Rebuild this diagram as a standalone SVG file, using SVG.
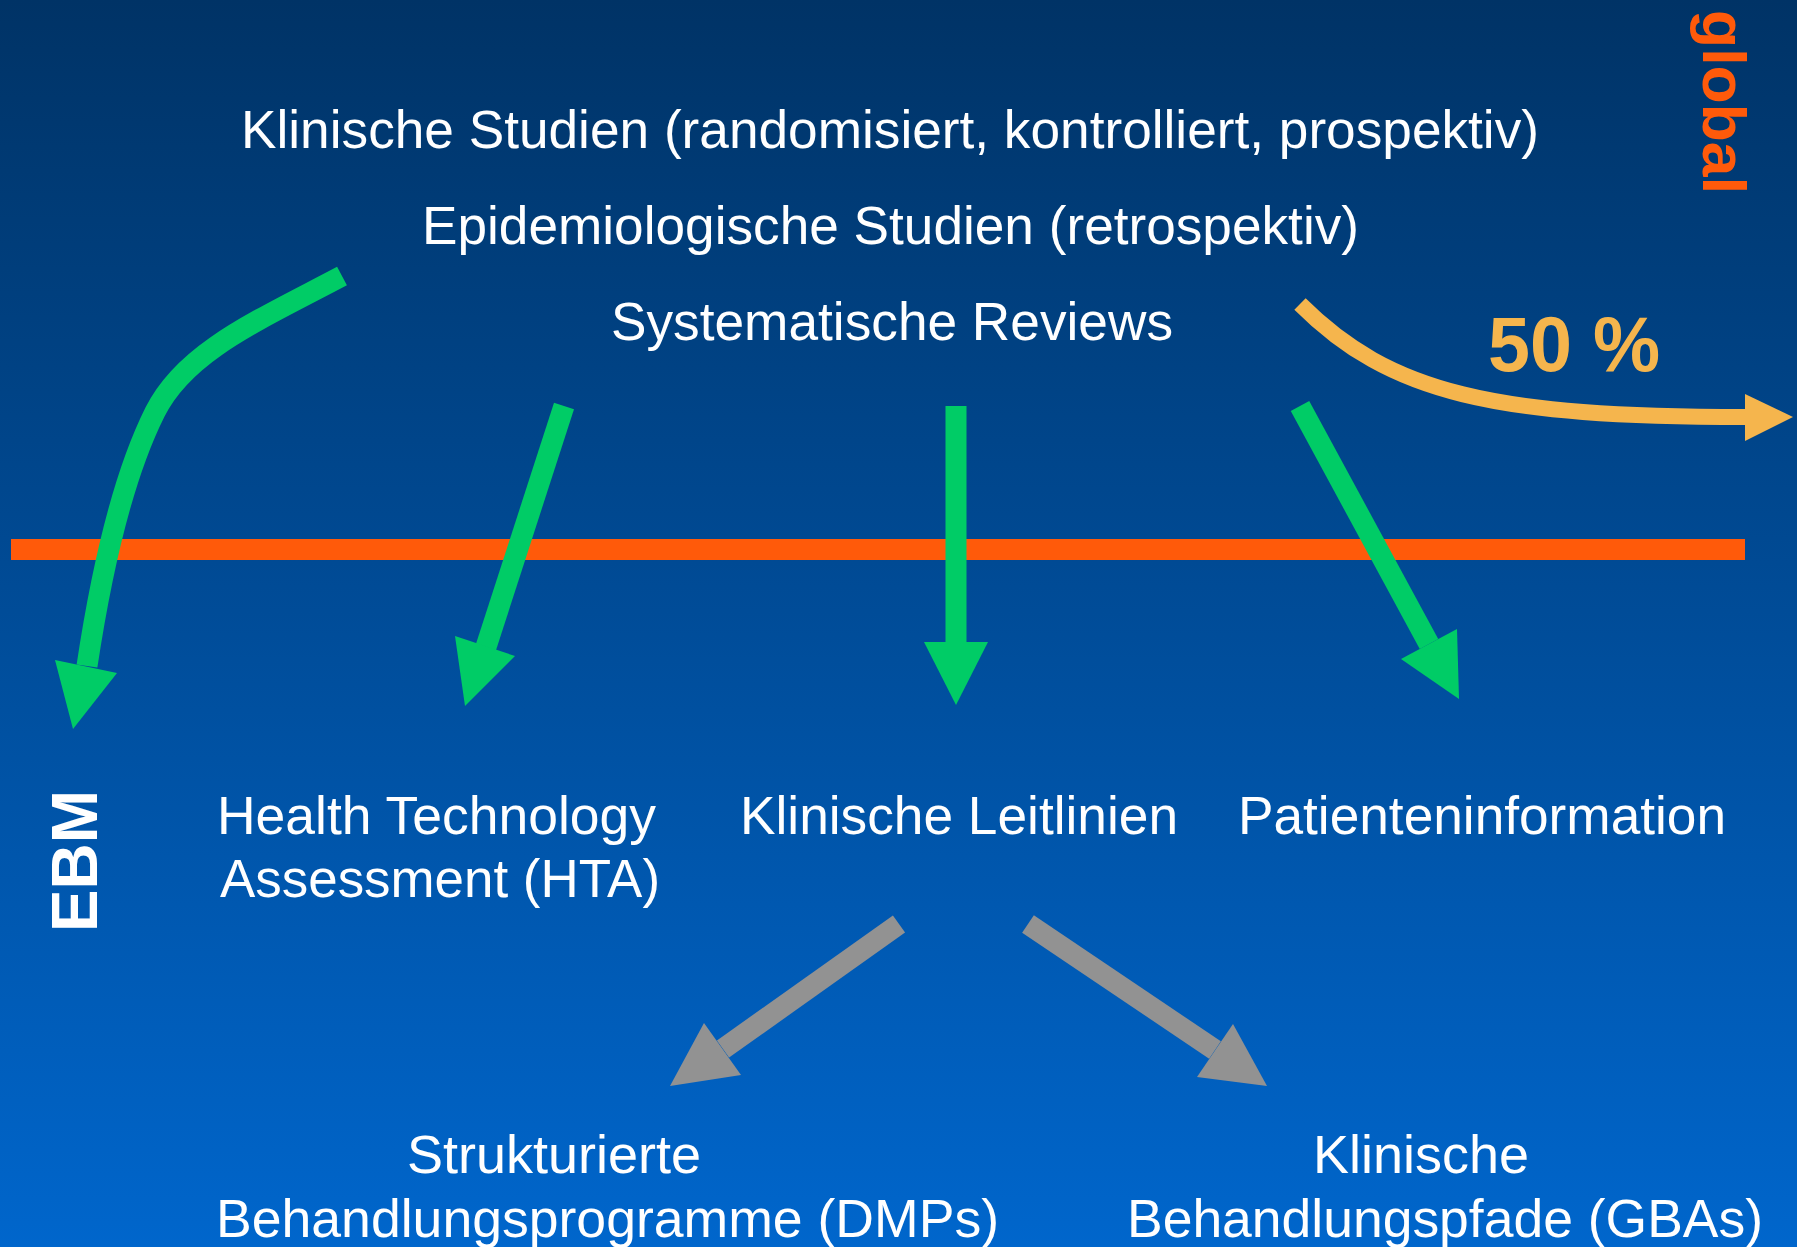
<svg xmlns="http://www.w3.org/2000/svg" width="1797" height="1247" viewBox="0 0 1797 1247">
  <defs>
    <linearGradient id="bg" x1="0" y1="0" x2="0" y2="1">
      <stop offset="0" stop-color="#003366"/>
      <stop offset="1" stop-color="#0066CC"/>
    </linearGradient>
  </defs>
  <style>
    .t { font-family: "Liberation Sans", Arial, sans-serif; font-size: 54px; fill: #FFFFFF; }
    .b { font-family: "Liberation Sans", Arial, sans-serif; font-weight: bold; }
    .g { fill: none; stroke: #00CC66; stroke-width: 21; stroke-linecap: butt; }
    .gh { fill: #00CC66; }
    .gr { fill: none; stroke: #929292; stroke-width: 21; stroke-linecap: butt; }
    .grh { fill: #929292; }
    .y { fill: none; stroke: #F5B54D; stroke-width: 16; stroke-linecap: butt; }
    .yh { fill: #F5B54D; }
  </style>
  <rect x="0" y="0" width="1797" height="1247" fill="url(#bg)"/>
  <rect id="barrier" x="11" y="539" width="1734" height="21" fill="#FF5A0A"/>

  <g id="sources">
    <text class="t" x="241" y="148" textLength="1298" lengthAdjust="spacingAndGlyphs">Klinische Studien (randomisiert, kontrolliert, prospektiv)</text>
    <text class="t" x="422" y="244" textLength="937" lengthAdjust="spacingAndGlyphs">Epidemiologische Studien (retrospektiv)</text>
    <text class="t" x="611" y="340" textLength="562" lengthAdjust="spacingAndGlyphs">Systematische Reviews</text>
  </g>
  <g id="global-label">
    <text class="b" transform="translate(1703,10) rotate(90)" font-size="62" fill="#FF5A0A" textLength="184" lengthAdjust="spacingAndGlyphs">global</text>
  </g>
  <g id="percent-label">
    <text class="b" x="1488" y="371" font-size="78" fill="#F5B54D" textLength="172" lengthAdjust="spacingAndGlyphs">50 %</text>
  </g>
  <g id="ebm-label">
    <text class="b" transform="translate(97,932) rotate(-90)" font-size="64" fill="#FFFFFF" textLength="142" lengthAdjust="spacingAndGlyphs">EBM</text>
  </g>
  <g id="hta">
    <text class="t" x="217" y="834" textLength="439" lengthAdjust="spacingAndGlyphs">Health Technology</text>
    <text class="t" x="220" y="897" textLength="440" lengthAdjust="spacingAndGlyphs">Assessment (HTA)</text>
  </g>
  <g id="leitlinien">
    <text class="t" x="740" y="834" textLength="438" lengthAdjust="spacingAndGlyphs">Klinische Leitlinien</text>
  </g>
  <g id="patienteninformation">
    <text class="t" x="1238" y="834" textLength="488" lengthAdjust="spacingAndGlyphs">Patienteninformation</text>
  </g>
  <g id="dmps">
    <text class="t" x="407" y="1173" textLength="294" lengthAdjust="spacingAndGlyphs">Strukturierte</text>
    <text class="t" x="216" y="1237" textLength="783" lengthAdjust="spacingAndGlyphs">Behandlungsprogramme (DMPs)</text>
  </g>
  <g id="gbas">
    <text class="t" x="1313" y="1173" textLength="216" lengthAdjust="spacingAndGlyphs">Klinische</text>
    <text class="t" x="1127" y="1237" textLength="636" lengthAdjust="spacingAndGlyphs">Behandlungspfade (GBAs)</text>
  </g>

  <g id="connectors">
    <path class="g" d="M342,276 C255,322 185,352 155,412 S103,560 87,666"/>
    <polygon class="gh" points="55,660 117,673 73,729"/>
    <path class="g" d="M564,406 L486,647"/>
    <polygon class="gh" points="455,636 515,656 465,706"/>
    <path class="g" d="M956,406 L956,643"/>
    <polygon class="gh" points="924,642 988,642 956,705"/>
    <path class="g" d="M1300,406 L1429,644"/>
    <polygon class="gh" points="1401,659 1457,629 1459,699"/>
    <path class="y" d="M1300,304 C1390,394 1495,417 1746,417"/>
    <polygon class="yh" points="1745,394 1745,441 1793,417"/>
    <path class="gr" d="M899,924 L723,1049"/>
    <polygon class="grh" points="704,1023 741,1075 670,1086"/>
    <path class="gr" d="M1028,924 L1215,1050"/>
    <polygon class="grh" points="1233,1024 1197,1077 1267,1086"/>
  </g>
</svg>
